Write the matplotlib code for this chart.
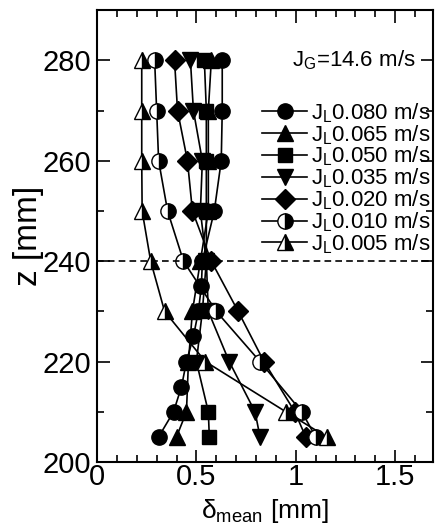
import matplotlib
matplotlib.use("Agg")
import matplotlib.pyplot as plt
from matplotlib.ticker import MultipleLocator, FuncFormatter

plt.rcParams['font.family'] = ['Liberation Sans', 'DejaVu Sans']
plt.rcParams['mathtext.fontset'] = 'custom'
plt.rcParams['mathtext.rm'] = 'Liberation Sans'
plt.rcParams['mathtext.it'] = 'Liberation Sans:italic'

# axial positions [mm]
z_fine = [280, 270, 260, 250, 240, 235, 230, 225, 220, 215, 210, 205]
z = [280, 270, 260, 250, 240, 230, 220, 210, 205]

# mean film thickness [mm] for each liquid superficial velocity
d_080 = [0.63, 0.63, 0.625, 0.59, 0.53, 0.525, 0.51, 0.485, 0.45, 0.425, 0.385, 0.31]
d_065 = [0.575, 0.56, 0.56, 0.56, 0.52, 0.48, 0.46, 0.45, 0.40]
d_050 = [0.54, 0.55, 0.55, 0.55, 0.55, 0.53, 0.50, 0.56, 0.565]
d_035 = [0.47, 0.485, 0.53, 0.52, 0.55, 0.56, 0.665, 0.795, 0.82]
d_020 = [0.39, 0.405, 0.455, 0.48, 0.575, 0.71, 0.84, 0.995, 1.05]
d_010 = [0.29, 0.30, 0.31, 0.355, 0.435, 0.60, 0.82, 1.03, 1.10]
d_005 = [0.225, 0.225, 0.225, 0.227, 0.27, 0.34, 0.545, 0.95, 1.155]

labels = ['0.080', '0.065', '0.050', '0.035', '0.020', '0.010', '0.005']

fig = plt.figure(figsize=(4.36, 5.32), dpi=100)
ax = fig.add_axes([0.2225, 0.1316, 0.7705, 0.8494])

kw = dict(color='black', lw=1.2, ms=11, mec='black')
ax.plot(d_080, z_fine, 'o-', mfc='black', label='J$_\\mathrm{L}$' + labels[0] + ' m/s', **kw)
ax.plot(d_065, z, '^-', mfc='black', label='J$_\\mathrm{L}$' + labels[1] + ' m/s', **kw)
ax.plot(d_050, z, 's-', mfc='black', label='J$_\\mathrm{L}$' + labels[2] + ' m/s', ms=10, color='black', lw=1.2, mec='black')
ax.plot(d_035, z, 'v-', mfc='black', label='J$_\\mathrm{L}$' + labels[3] + ' m/s', **kw)
ax.plot(d_020, z, 'D-', mfc='black', label='J$_\\mathrm{L}$' + labels[4] + ' m/s', ms=10, color='black', lw=1.2, mec='black')
ax.plot(d_010, z, 'o-', mfc='black', mfcalt='white', fillstyle='right',
        label='J$_\\mathrm{L}$' + labels[5] + ' m/s', **kw)
ax.plot(d_005, z, '^-', mfc='black', mfcalt='white', fillstyle='right',
        label='J$_\\mathrm{L}$' + labels[6] + ' m/s', **kw)

ax.axhline(240, color='black', ls='--', lw=1.2, dashes=(4, 2.5))

ax.set_xlim(0, 1.69)
ax.set_ylim(200, 290)
ax.xaxis.set_major_locator(MultipleLocator(0.5))
ax.xaxis.set_minor_locator(MultipleLocator(0.1))
ax.yaxis.set_major_locator(MultipleLocator(20))
ax.yaxis.set_minor_locator(MultipleLocator(10))
ax.xaxis.set_major_formatter(FuncFormatter(lambda v, p: '%g' % v))
ax.tick_params(which='both', direction='in', top=True, right=True, width=1.2)
ax.tick_params(which='major', length=9, labelsize=21)
ax.tick_params(axis='x', which='major', pad=1)
ax.tick_params(axis='y', which='major', pad=4)
ax.tick_params(which='minor', length=5)
for s in ax.spines.values():
    s.set_linewidth(1.5)

ax.set_xlabel('δ$_\\mathrm{mean}$ [mm]', fontsize=19, labelpad=4)
ax.set_ylabel('z [mm]', fontsize=24, labelpad=-1)

ax.text(1.605, 280, 'J$_\\mathrm{G}$=14.6 m/s', ha='right', va='center', fontsize=16)
ax.legend(loc='upper right', bbox_to_anchor=(1.02, 0.818), frameon=False, fontsize=16,
          handlelength=2.0, handletextpad=0.2, labelspacing=-0.08, borderaxespad=0.0)

fig.savefig('out.png', dpi=100)
